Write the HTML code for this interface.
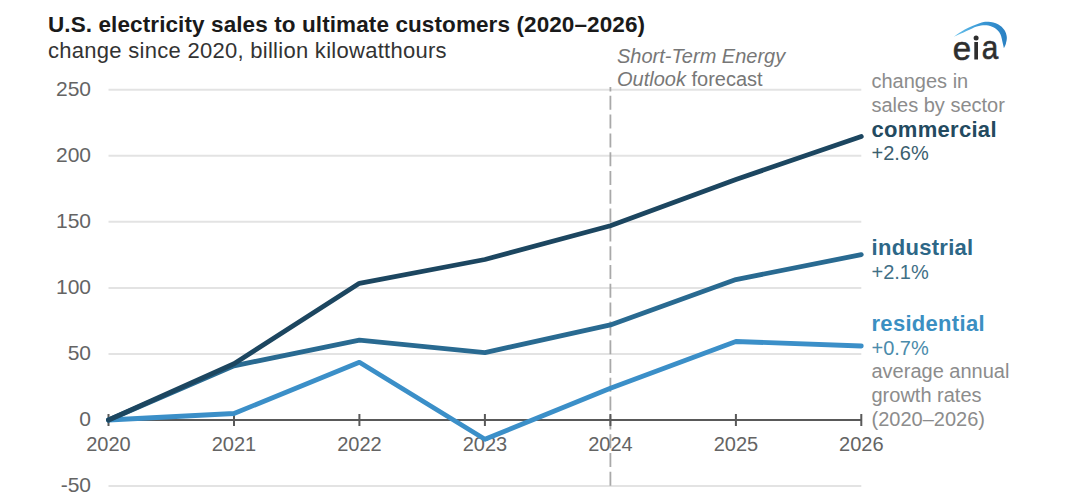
<!DOCTYPE html>
<html><head><meta charset="utf-8">
<style>
html,body{margin:0;padding:0;background:#fff;}
body{width:1080px;height:501px;overflow:hidden;position:relative;}
svg{position:absolute;left:0;top:0;}
text{font-family:"Liberation Sans",sans-serif;}
</style></head>
<body>
<svg width="1080" height="501" viewBox="0 0 1080 501">
<!-- gridlines -->
<g stroke="#e3e3e3" stroke-width="2" fill="none">
<path d="M108.5,89.7H861.3M108.5,155.8H861.3M108.5,221.8H861.3M108.5,287.9H861.3M108.5,353.9H861.3M108.5,486.1H861.3"/>
</g>
<!-- dashed forecast line -->
<path stroke="#a9a9a9" stroke-width="1.8" fill="none" d="M610.4,87V91.5M610.4,95.8V109.8M610.4,114.6V128.6M610.4,133.4V147.4M610.4,152.2V166.2M610.4,171.0V185.0M610.4,189.8V203.8M610.4,208.6V222.6M610.4,227.4V241.4M610.4,246.2V260.2M610.4,265.0V279.0M610.4,283.8V297.8M610.4,302.6V316.6M610.4,321.4V335.4M610.4,340.2V354.2M610.4,359.0V373.0M610.4,377.8V391.8M610.4,396.6V410.6M610.4,415.4V429.4M610.4,434.2V448.2M610.4,453.0V467.0M610.4,471.8V485.8"/>
<!-- axis -->
<g stroke="#595959" stroke-width="2" fill="none">
<path d="M108.5,420H861.3"/>
<path d="M108.5,414V426M234,414V426M359.4,414V426M484.9,414V426M610.4,414V426M735.9,414V426M861.3,414V426"/>
</g>
<!-- y labels -->
<g fill="#646464" font-size="21" text-anchor="end">
<text x="91" y="96">250</text>
<text x="91" y="162">200</text>
<text x="91" y="228">150</text>
<text x="91" y="294">100</text>
<text x="91" y="360">50</text>
<text x="91" y="426">0</text>
<text x="91" y="492">-50</text>
</g>
<!-- x labels -->
<g fill="#646464" font-size="20" text-anchor="middle">
<text x="108.5" y="450.5">2020</text>
<text x="234" y="450.5">2021</text>
<text x="359.4" y="450.5">2022</text>
<text x="484.9" y="450.5">2023</text>
<text x="610.4" y="450.5">2024</text>
<text x="735.9" y="450.5">2025</text>
<text x="861.3" y="450.5">2026</text>
</g>
<!-- series -->
<g fill="none" stroke-width="4.8" stroke-linejoin="round" stroke-linecap="round">
<polyline stroke="#3b8fc8" points="108.5,420.0 234.0,413.5 359.4,362.3 484.9,439.3 610.4,388.3 735.9,341.5 861.3,346.0"/>
<polyline stroke="#296a91" points="108.5,420.0 234.0,365.8 359.4,340.1 484.9,352.6 610.4,324.9 735.9,279.6 861.3,254.6"/>
<polyline stroke="#1c4660" points="108.5,420.0 234.0,363.8 359.4,283.3 484.9,259.5 610.4,225.8 735.9,179.5 861.3,136.5"/>
</g>
<!-- title -->
<text x="48" y="31.5" font-size="22.5" font-weight="bold" fill="#1a1a1a" letter-spacing="0.1">U.S. electricity sales to ultimate customers (2020–2026)</text>
<text x="48" y="57.5" font-size="22" fill="#333" letter-spacing="0.28">change since 2020, billion kilowatthours</text>
<!-- forecast label -->
<text x="617" y="62.5" font-size="20" font-style="italic" fill="#777">Short-Term Energy</text>
<text x="617" y="85.5" font-size="20" fill="#777"><tspan font-style="italic">Outlook</tspan> forecast</text>
<!-- right annotations -->
<g font-size="20">
<text x="871.5" y="88" fill="#8c8c8c">changes in</text>
<text x="871.5" y="111.5" fill="#8c8c8c">sales by sector</text>
<text x="871.5" y="137" fill="#234a5f" font-size="22" font-weight="bold" letter-spacing="0.3">commercial</text>
<text x="871.5" y="160" fill="#3a5e6e">+2.6%</text>
<text x="871.5" y="255" fill="#2d6787" font-size="22" font-weight="bold" letter-spacing="0.3">industrial</text>
<text x="871.5" y="279.3" fill="#3f6f86">+2.1%</text>
<text x="871.5" y="330.7" fill="#3b8fc2" font-size="22" font-weight="bold" letter-spacing="0.3">residential</text>
<text x="871.5" y="355.3" fill="#4b8bab">+0.7%</text>
<text x="871.5" y="378" fill="#8c8c8c">average annual</text>
<text x="871.5" y="401.8" fill="#8c8c8c">growth rates</text>
<text x="871.5" y="425.5" fill="#8c8c8c">(2020–2026)</text>
</g>
<!-- eia logo -->
<defs>
<linearGradient id="sw" x1="0" y1="0" x2="1" y2="0">
<stop offset="0" stop-color="#6cc4ec"/><stop offset="0.45" stop-color="#3d9cd8"/>
<stop offset="1" stop-color="#2a80c2"/>
</linearGradient>
</defs>
<path fill="url(#sw)" d="M953.70,36.80 C955.55,35.60 960.50,31.87 964.80,29.60 C969.10,27.33 975.57,24.50 979.50,23.20 C983.43,21.90 985.32,21.63 988.40,21.80 C991.48,21.97 995.33,22.83 998.00,24.20 C1000.67,25.57 1002.93,27.85 1004.40,30.00 C1005.87,32.15 1006.57,34.77 1006.80,37.10 C1007.03,39.43 1006.28,42.15 1005.80,44.00 C1005.32,45.85 1004.22,47.50 1003.90,48.20 L1003.90,48.20 C1003.68,47.25 1003.18,44.83 1002.60,42.50 C1002.02,40.17 1001.58,36.52 1000.40,34.20 C999.22,31.88 997.50,30.03 995.50,28.60 C993.50,27.17 990.82,26.10 988.40,25.60 C985.98,25.10 983.72,25.13 981.00,25.60 C978.28,26.07 975.43,27.07 972.10,28.40 C968.77,29.73 964.07,32.20 961.00,33.60 C957.93,35.00 954.92,36.27 953.70,36.80 Z"/>
<g fill="#2e2e2e" stroke="#2e2e2e" stroke-width="0.6" font-size="33">
<text x="952.8" y="59.5">e</text>
<text x="981.8" y="59.5" transform="translate(981.8 0) scale(0.9 1) translate(-981.8 0)">a</text>
</g>
<rect x="974.3" y="42" width="3.7" height="17.5" fill="#2e2e2e"/>
<circle cx="976.1" cy="38" r="2.5" fill="#2e2e2e"/>
</svg>
</body></html>
